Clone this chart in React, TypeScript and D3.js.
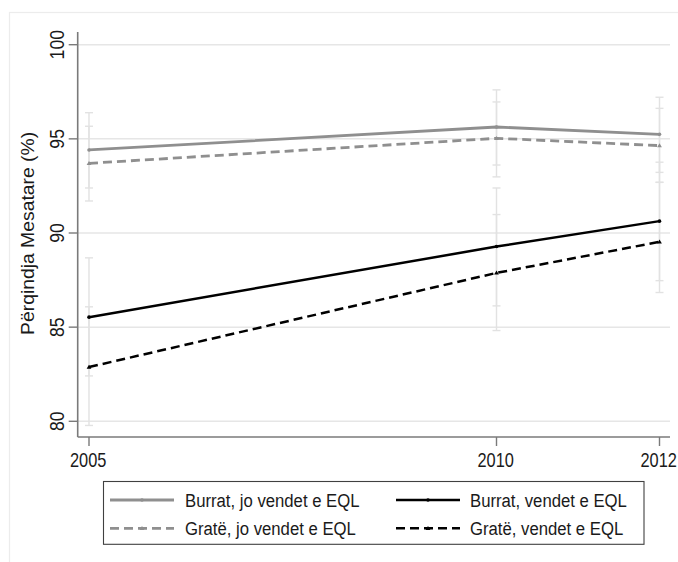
import React from "react";
import * as d3 from "d3";

const years = [2005, 2010, 2012];
const yTicks = [80, 85, 90, 95, 100];
const seriesNames = [
  "Burrat, jo vendet e EQL",
  "Gratë, jo vendet e EQL",
  "Burrat, vendet e EQL",
  "Gratë, vendet e EQL",
];
const burratJoMean = [94.41, 95.63, 95.24];
const burratJoLo = [92.39, 93.61, 93.22];
const burratJoHi = [96.39, 97.6, 97.21];
const grateJoMean = [93.7, 95.03, 94.64];
const grateJoLo = [91.7, 92.98, 92.69];
const grateJoHi = [95.67, 96.96, 96.62];
const burratMean = [85.53, 89.28, 90.63];
const burratLo = [82.41, 86.13, 87.47];
const burratHi = [88.68, 92.39, 93.76];
const grateMean = [82.88, 87.88, 89.53];
const grateLo = [79.78, 84.82, 86.84];
const grateHi = [86.08, 90.98, 92.69];
const yTitle = "Përqindja Mesatare (%)";

const styles = [
  { color: "#8f8f8f", dash: "", width: 2.8, marker: "dot" },
  { color: "#8f8f8f", dash: "9,5", width: 2.8, marker: "tri" },
  { color: "#000000", dash: "", width: 2.5, marker: "dot" },
  { color: "#000000", dash: "9,5", width: 2.5, marker: "tri" },
];

const series = [
  { name: seriesNames[0], mean: burratJoMean, lo: burratJoLo, hi: burratJoHi },
  { name: seriesNames[1], mean: grateJoMean, lo: grateJoLo, hi: grateJoHi },
  { name: seriesNames[2], mean: burratMean, lo: burratLo, hi: burratHi },
  { name: seriesNames[3], mean: grateMean, lo: grateLo, hi: grateHi },
];

const FONT = "'Liberation Sans', Arial, sans-serif";

function Marker({ x, y, kind, color }: any) {
  if (kind === "tri") {
    const s = 2.4;
    return <path d={`M${x},${y - s} L${x + s},${y + s * 0.7} L${x - s},${y + s * 0.7}Z`} fill={color} />;
  }
  return <circle cx={x} cy={y} r={1.8} fill={color} />;
}

export default function App() {
  const x = d3.scaleLinear().domain([2005, 2012]).range([89, 659.5]);
  const y = d3.scaleLinear().domain([80, 100]).range([421.3, 44.7]);
  const plotLeft = 77.7, plotRight = 670, plotTop = 32, plotBottom = 437;

  const line = d3
    .line<number>()
    .x((_, i) => x(years[i]))
    .y((d) => y(d));

  const legendItems = [
    { s: 0, lx: 110, tx: 185, row: 0 },
    { s: 2, lx: 396, tx: 470, row: 0 },
    { s: 1, lx: 110, tx: 185, row: 1 },
    { s: 3, lx: 396, tx: 470, row: 1 },
  ];
  const rowY = [500, 528.3];

  return (
    <div style={{ position: "fixed", left: 0, top: 0 }}>
      <svg width={678} height={562} style={{ display: "block", background: "#fff" }} fontFamily={FONT}>
        <rect x={9.5} y={12.5} width={700} height={600} fill="#fff" stroke="#ececec" strokeWidth={1.2} />
        {yTicks.map((t) => (
          <line key={"g" + t} x1={plotLeft} x2={plotRight} y1={y(t)} y2={y(t)} stroke="#e6e6e6" strokeWidth={1.5} />
        ))}
        {series.map((s, si) =>
          years.map((yr, i) => (
            <g key={`e${si}-${i}`} stroke="#e2e2e2" strokeWidth={1.4}>
              <line x1={x(yr)} x2={x(yr)} y1={y(s.lo[i])} y2={y(s.hi[i])} />
              <line x1={x(yr) - 4} x2={x(yr) + 4} y1={y(s.lo[i])} y2={y(s.lo[i])} />
              <line x1={x(yr) - 4} x2={x(yr) + 4} y1={y(s.hi[i])} y2={y(s.hi[i])} />
            </g>
          ))
        )}
        {series.map((s, si) => (
          <g key={"l" + si}>
            <path
              d={line(s.mean) || ""}
              fill="none"
              stroke={styles[si].color}
              strokeWidth={styles[si].width}
              strokeDasharray={styles[si].dash}
            />
            {s.mean.map((v, i) => (
              <Marker key={i} x={x(years[i])} y={y(v)} kind={styles[si].marker} color={styles[si].color} />
            ))}
          </g>
        ))}
        <line x1={plotLeft} x2={plotLeft} y1={plotTop} y2={plotBottom} stroke="#7a7a7a" strokeWidth={1.6} />
        <line x1={plotLeft} x2={plotRight} y1={plotBottom} y2={plotBottom} stroke="#7a7a7a" strokeWidth={1.6} />
        {yTicks.map((t) => (
          <g key={"yt" + t}>
            <line x1={plotLeft - 9} x2={plotLeft} y1={y(t)} y2={y(t)} stroke="#7a7a7a" strokeWidth={1.4} />
            <text
              transform={`translate(63.5,${y(t)}) rotate(-90) scale(0.86,1)`}
              textAnchor="middle"
              fontSize={20.5}
              fill="#1a1a1a"
            >
              {t}
            </text>
          </g>
        ))}
        {years.map((yr) => (
          <g key={"xt" + yr}>
            <line x1={x(yr)} x2={x(yr)} y1={plotBottom} y2={plotBottom + 9} stroke="#7a7a7a" strokeWidth={1.4} />
            <text
              transform={`translate(${x(yr) - 0.8},467.3) scale(0.82,1)`}
              textAnchor="middle"
              fontSize={20}
              fill="#1a1a1a"
            >
              {yr}
            </text>
          </g>
        ))}
        <text
          transform={`translate(34,233.4) rotate(-90)`}
          textAnchor="middle"
          fontSize={17.5}
          textLength={203}
          lengthAdjust="spacingAndGlyphs"
          fill="#1a1a1a"
        >
          {yTitle}
        </text>
        <rect x={103.5} y={481.5} width={540.5} height={62.8} fill="#fff" stroke="#404040" strokeWidth={1.1} />
        {legendItems.map((it) => {
          const st = styles[it.s];
          const cy = rowY[it.row];
          return (
            <g key={"lg" + it.s}>
              <line
                x1={it.lx}
                x2={it.lx + 64}
                y1={cy}
                y2={cy}
                stroke={st.color}
                strokeWidth={st.width}
                strokeDasharray={st.dash}
              />
              <Marker x={it.lx + 32} y={cy} kind={st.marker} color={st.color} />
              <text
                transform={`translate(${it.tx},${cy + 6.8}) scale(0.88,1)`}
                fontSize={19}
                fill="#1a1a1a"
              >
                {series[it.s].name}
              </text>
            </g>
          );
        })}
      </svg>
    </div>
  );
}
